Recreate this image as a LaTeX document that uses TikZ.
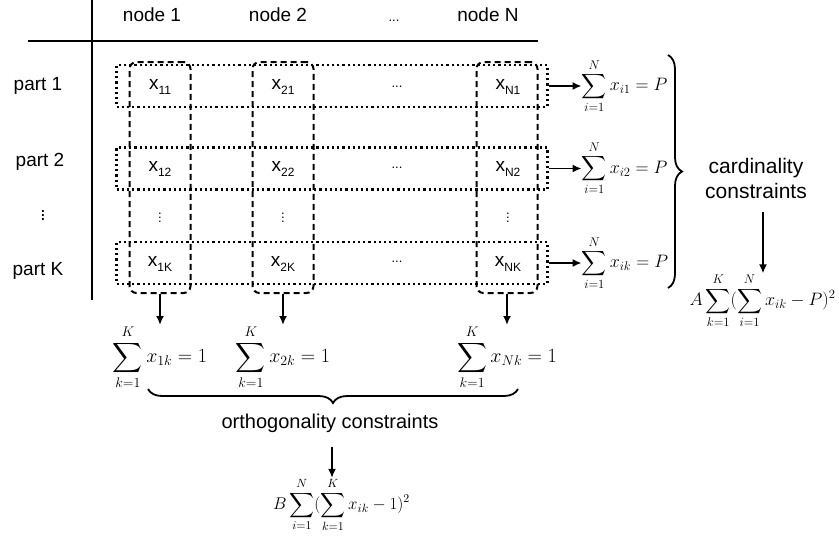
\RequirePackage{fix-cm}
\documentclass[tikz,border=0pt]{standalone}
\usepackage[no-math]{fontspec}
\usepackage{amsmath}
\setmainfont{Liberation Sans}
\usetikzlibrary{positioning,arrows.meta,decorations.pathreplacing}
\newcommand{\xsub}[1]{x\raisebox{-5pt}{\fontsize{12}{12}\selectfont #1}}
\tikzset{
  lbl/.style={font=\fontsize{19}{22}\selectfont, inner sep=0pt},
  dots/.style={font=\fontsize{13}{15}\selectfont, inner sep=0pt},
  rowbox/.style={draw, line width=2.2pt, dash pattern=on 2.2pt off 3pt,
    minimum width=431pt, minimum height=42pt, inner sep=0pt},
  colbox/.style={draw, line width=2pt, dash pattern=on 6pt off 4pt,
    rounded corners=7pt, minimum width=61pt, minimum height=231pt, inner sep=0pt},
  eq/.style={font=\fontsize{#1}{#1}\selectfont, inner sep=0pt},
  eq/.default=18,
  arr/.style={-{Latex[length=9pt,width=8pt]}, line width=1.8pt},
  brc/.style={decorate, decoration={brace, amplitude=14pt}, line width=1.8pt}
}
\begin{document}
\begin{tikzpicture}[x=1pt,y=-1pt]
    \useasboundingbox (0,0) rectangle (839,536);
    % table rules
    \draw[line width=1.8pt] (92,0) -- (92,300);
    \draw[line width=1.8pt] (28,41) -- (538,41);
    % headers
    \node[lbl] (h1) at (152,15) {node 1};
    \node[lbl] (h2) at (278,15) {node 2};
    \node[dots] (h3) at (394,21) {...};
    \node[lbl] (hN) at (488,15) {node N};
    \node[lbl] (p1) at (38,86) {part 1};
    \node[lbl] (p2) at (40,162) {part 2};
    \node[lbl] (pv) at (43,212) {$\vdots$};
    \node[lbl] (pK) at (38,271) {part K};
    % rows and columns
    \node[rowbox] (r1) at (332,86) {};
    \node[rowbox] (r2) at (332,168.5) {};
    \node[rowbox] (rK) at (332,263) {};
    \node[colbox] (k1) at (160,177.5) {};
    \node[colbox] (k2) at (283,177.5) {};
    \node[colbox] (kN) at (507,177.5) {};
    % cells
    \node[lbl] (x11) at (160,87) {\xsub{11}};
    \node[lbl] (x21) at (283,87) {\xsub{21}};
    \node[dots] (d1) at (397,87) {...};
    \node[lbl] (xN1) at (508,87) {\xsub{N1}};
    \node[lbl] (x12) at (160,169) {\xsub{12}};
    \node[lbl] (x22) at (283,169) {\xsub{22}};
    \node[dots] (d2) at (397,168) {...};
    \node[lbl] (xN2) at (508,169) {\xsub{N2}};
    \node[dots] (v1) at (160,215) {$\vdots$};
    \node[dots] (v2) at (283,215) {$\vdots$};
    \node[dots] (vN) at (508,215) {$\vdots$};
    \node[lbl] (x1K) at (160,264) {\xsub{1K}};
    \node[lbl] (x2K) at (283,264) {\xsub{2K}};
    \node[dots] (dK) at (397,262) {...};
    \node[lbl] (xNK) at (508,264) {\xsub{NK}};
    % cardinality
    \node[eq, right=33pt of r1] (s1) {$\displaystyle\sum_{i=1}^{N} x_{i1} = P$};
    \node[eq, right=33pt of r2] (s2) {$\displaystyle\sum_{i=1}^{N} x_{i2} = P$};
    \node[eq, right=33pt of rK] (sK) {$\displaystyle\sum_{i=1}^{N} x_{ik} = P$};
    \draw[arr] (r1) -- (s1);
    \draw[arr] (r2) -- (s2);
    \draw[arr] (rK) -- (sK);
    \draw[brc] (668,55) -- (668,288);
    \node[lbl, font=\fontsize{21}{25}\selectfont, align=center] (card) at (756,178) {cardinality\\constraints};
    \node[eq] (pa) at (762.5,301) {$\displaystyle A\sum_{k=1}^{K}(\sum_{i=1}^{N} x_{ik}-P)^2$};
    \draw[arr] (card.south) ++(7,14) coordinate (ca) -- (ca |- pa.north);
    % orthogonality
    \node[eq=20, below=31pt of k1] (o1) {$\displaystyle\sum_{k=1}^{K} x_{1k} = 1$};
    \node[eq=20, below=31pt of k2] (o2) {$\displaystyle\sum_{k=1}^{K} x_{2k} = 1$};
    \node[eq=20, below=31pt of kN] (oN) {$\displaystyle\sum_{k=1}^{K} x_{Nk} = 1$};
    \draw[arr] (k1) -- (o1);
    \draw[arr] (k2) -- (o2);
    \draw[arr] (kN) -- (oN);
    \draw[brc] (518,389) -- (148,389);
    \node[lbl, font=\fontsize{20}{24}\selectfont] (orth) at (330,423) {orthogonality constraints};
    \node[eq=17] (pb) at (341.5,505) {$\displaystyle B\sum_{i=1}^{N}(\sum_{k=1}^{K} x_{ik}-1)^2$};
    \draw[arr] (orth.south) ++(2,14) coordinate (ob) -- (ob |- pb.north);
\end{tikzpicture}
\end{document}
